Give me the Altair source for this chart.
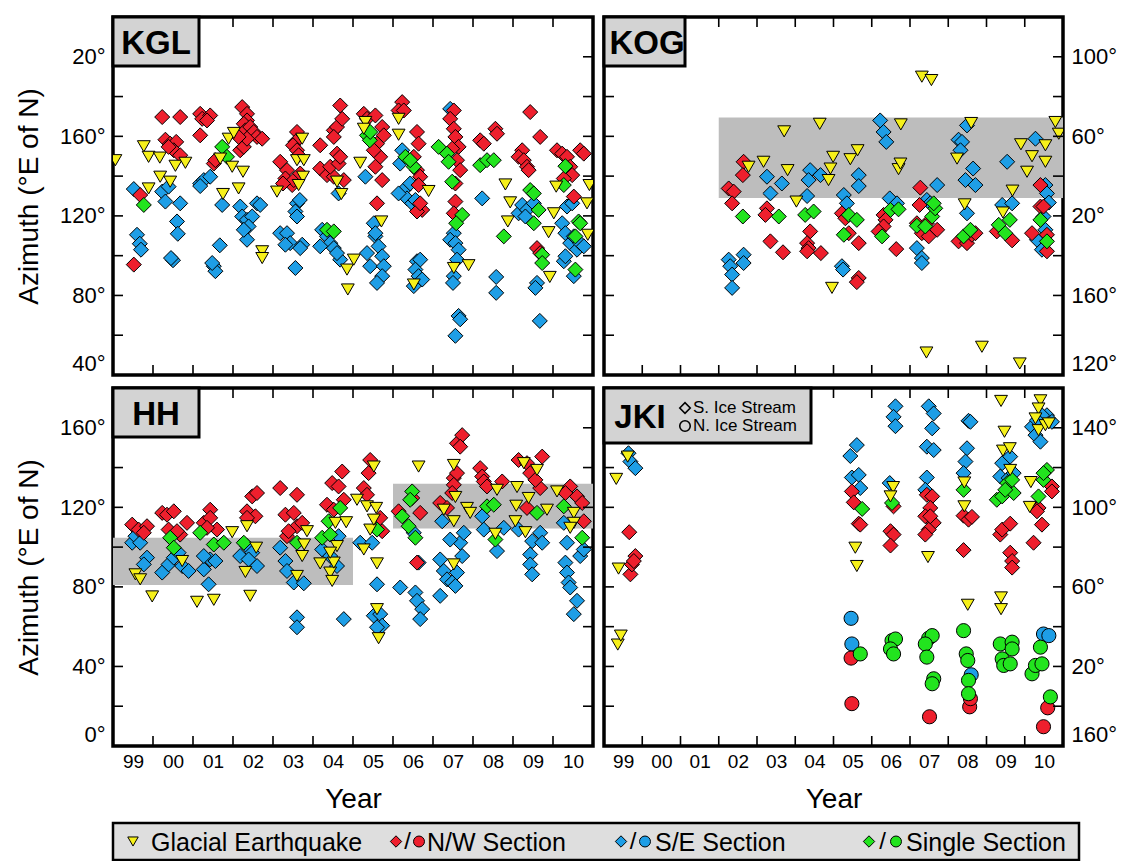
import altair as alt
import pandas as pd

# ---------------- data (year, azimuth) ----------------
YEAR_LABELS = ["99", "00", "01", "02", "03", "04", "05", "06", "07", "08", "09", "10"]
X_DOMAIN = [1999, 2011]
X_TICKS = list(range(2000, 2011))
Y_START = {"KGL": 40, "KOG": 120, "HH": 0, "JKI": 160}

KGL_EQ = [(1999.06,148),(1999.77,155),(1999.89,149.7),(2000.17,149.3),(2000.18,139.7),(1999.89,133.8),
(2000.43,137.2),(2000.56,145.2),(2000.81,146.7),(2001.68,148.8),(2001.89,158.8),(2002.02,161.7),(2001.98,144.7),
(2002.25,142.2),(2002.14,133.8),(2001.75,131),(2002.73,102.2),(2002.73,98.8),(2003.1,132.2),(2003.6,148),
(2003.73,158.8),(2003.77,148),(2003.75,139.7),(2003.64,135.5),(2004.6,137.2),(2004.71,131),(2004.85,93),
(2004.87,83),(2005.02,98),(2005.18,146.7),(2005.31,167.2),(2005.27,163.8),(2005.71,117.2),(2006.14,168.8),
(2006.14,160.8),(2006.89,132.5),(2006.52,85.5),(2007.52,93.8),(2007.89,95.2),(2008.81,135.8),(2008.93,126.8),
(2008.87,117.2),(2009.89,111.8),(2009.92,89.3),(2010.02,121.3),(2010.08,134.7),(2010.85,126.3),(2010.87,110.5),
(2010.91,135.5)]
KGL_NW = [(2000.23,169.7),(2000.68,169.7),(2000.31,158.3),(2000.43,156.3),(2000.58,157.2),(2000.52,153),
(2000.68,150.5),(2000.39,154.7),(1999.52,95.5),(1999.68,130.5),(2001.18,171.3),(2001.23,168.8),(2001.43,170.5),
(2001.35,168),(2001.18,160.5),(2001.52,146.3),(2001.56,148),(2002.23,174.7),(2002.35,171.3),(2002.35,168),
(2002.27,166.3),(2002.31,163),(2002.43,164.7),(2002.18,153),(2002.27,154.7),(2002.52,162.2),(2002.6,159.7),
(2002.73,158.8),(2002.35,158.8),(2002.14,159.7),(2003.6,162.2),(2003.56,157.2),(2003.5,155.5),(2003.6,153),
(2003.64,150.5),(2003.18,147.2),(2003.35,143),(2003.31,138.8),(2003.48,135.5),(2003.52,138),(2003.25,136.3),
(2003.68,141.3),(2004.18,155.5),(2004.18,143.8),(2004.35,140.5),(2004.52,139.7),(2004.43,144.7),(2004.64,146.3),
(2004.6,151.3),(2004.68,149.7),(2004.52,163),(2004.6,164.7),(2004.73,168.8),(2004.68,175.5),(2004.52,159.7),
(2004.77,138),(2005.27,171.3),(2005.35,168.8),(2005.56,170.5),(2005.73,164.7),(2005.77,160.5),(2005.6,156.3),
(2005.68,149.7),(2005.56,144.7),(2005.73,138),(2005.52,153),(2005.6,126.3),(2006.23,177.2),(2006.14,173),
(2006.27,173),(2006.6,162.2),(2006.64,156.3),(2006.52,149.7),(2006.6,143),(2006.68,139.7),(2006.64,135.5),
(2006.73,123),(2006.6,122.2),(2006.68,126.3),(2007.52,173),(2007.43,168.8),(2007.52,163.8),(2007.56,159.7),
(2007.64,154.7),(2007.6,148),(2007.68,143),(2007.48,153.8),(2007.56,136.3),(2007.56,127.2),(2007.52,121.3),
(2008.18,158),(2008.27,156.3),(2008.56,163.8),(2008.6,161.3),(2009.43,172.2),(2009.23,153),(2009.14,149.7),
(2009.27,148),(2009.35,144.7),(2009.39,143),(2009.68,159.7),(2009.6,103.8),(2009.68,101.3),(2010.1,153),
(2010.23,151.3),(2010.35,149.7),(2010.43,144.7),(2010.48,140.5),(2010.27,138.8),(2010.68,153),(2010.77,151.3),
(2010.52,129.7)]
KGL_SE = [(1999.52,133.5),(1999.6,110.5),(1999.67,106),(1999.7,103),(2000.23,132.2),(2000.31,127.2),
(2000.39,134.7),(2000.68,126.3),(2000.6,117.2),(2000.62,111),(2000.5,97.7),(2000.45,98.8),(2001.18,136.3),
(2001.27,138),(2001.43,139.7),(2001.18,135),(2001.73,125.5),(2001.67,105.2),(2001.52,94.7),(2001.56,92.2),
(2001.48,96.3),(2002.18,124.7),(2002.23,119.7),(2002.35,118),(2002.48,119.7),(2002.39,114.7),(2002.35,108),
(2002.6,126.3),(2002.68,125.5),(2002.27,113),(2003.18,111.3),(2003.35,111.3),(2003.43,106.3),(2003.31,105.5),
(2003.56,93.8),(2003.73,105.5),(2003.68,103.8),(2003.6,126.3),(2003.67,128),(2003.56,122.2),(2003.6,119.7),
(2004.23,113),(2004.35,109.7),(2004.43,106.3),(2004.52,103.8),(2004.68,98),(2004.18,104.7),(2004.6,101.3),
(2004.64,131.3),(2005.31,139.7),(2005.35,101.3),(2005.43,94.7),(2005.52,116.3),(2005.56,109.7),(2005.64,104.7),
(2005.73,99.7),(2005.77,94.7),(2005.73,89.7),(2005.6,86.3),(2005.56,111.3),(2006.23,153),(2006.18,146.3),
(2006.27,133),(2006.43,136.3),(2006.35,128.8),(2006.48,126.3),(2006.56,128),(2006.14,131.3),(2006.6,97.2),
(2006.68,98),(2006.56,93),(2006.64,89.7),(2006.73,88),(2006.52,84.7),(2007.43,173.8),(2007.52,111.3),
(2007.43,108),(2007.56,106.3),(2007.64,103),(2007.6,98),(2007.52,89.7),(2007.5,86.3),(2007.64,69.7),
(2007.68,68),(2007.56,59.7),(2008.23,128.8),(2008.58,89.3),(2008.58,81.3),(2009.14,121.3),(2009.23,125.5),
(2009.35,123),(2009.31,119.7),(2009.52,126.3),(2009.6,86.3),(2009.56,83.8),(2009.67,67.2),(2010.23,116.3),
(2010.31,111.3),(2010.35,124.7),(2010.43,106.3),(2010.52,109.7),(2010.6,103),(2010.68,106.3),(2010.77,104.7),
(2010.48,126.3),(2010.27,97.2),(2010.52,89.7),(2010.31,99.7)]
KGL_SS = [(1999.77,125.5),(2001.73,154.7),(2001.85,149.7),(2005.35,160.5),(2005.42,158),(2005.43,162.2),
(2006.31,149.7),(2006.52,144.7),(2006.43,148),(2007.14,154.7),(2007.35,151.3),(2007.39,147.2),(2007.48,137.2),
(2007.73,120.5),(2007.58,116.3),(2008.18,145.5),(2008.35,148),(2008.52,148),(2008.77,109.7),(2009.43,133),
(2009.52,131.3),(2009.64,123),(2009.52,116.3),(2009.73,100.5),(2009.73,96.3),(2010.31,145),(2010.27,135.5),
(2004.35,113),(2004.52,112.2),(2010.64,117.2),(2010.56,109.7),(2010.56,93),(2010.68,116.3)]

KOG_EQ = [(2007.31,270),(2007.56,268.3),(2003.71,242.5),(2004.64,246.3),(2006.76,246),(2008.6,246.7),
(2010.8,247.2),(2010.89,241.3),(2002.78,224.7),(2003.17,227.2),(2003.8,223),(2004.03,207.2),(2004.87,218),
(2004.92,223.8),(2004.99,229.7),(2005.44,228.5),(2005.63,233),(2006.7,223.5),(2006.75,226.3),(2008.23,228.8),
(2008.43,205.8),(2009.43,201.7),(2009.68,212.7),(2009.9,236),(2010.06,222.2),(2010.19,230),(2010.54,235.5),
(2010.54,227.2),(2004.96,163.8),(2007.43,131.3),(2008.88,134.2),(2009.87,125.8)]
KOG_NW = [(2002.26,213.8),(2002.39,212.2),(2002.65,227.2),(2002.63,220.5),(2002.35,206.3),(2003.26,203.8),
(2003.22,200.5),(2003.35,187.2),(2003.68,181.7),(2004.39,192.2),(2004.31,186.3),(2004.35,183.8),(2004.31,182.2),
(2004.67,181.3),(2005.22,201.3),(2005.31,198.8),(2005.4,191.3),(2005.66,186.3),(2005.66,168.8),(2005.61,166.7),
(2006.31,200.5),(2006.36,198),(2006.31,194.7),(2006.18,192.2),(2006.64,183.3),(2007.27,214.2),(2007.25,205.5),
(2007.18,196.3),(2007.31,191.3),(2007.49,189.7),(2007.71,193),(2007.44,196.3),(2008.27,187.2),(2008.49,186.3),
(2008.62,190.5),(2008.71,191.3),(2009.27,192.2),(2009.67,187.7),(2010.41,215.5),(2010.41,204.7),(2010.19,191.3),
(2010.58,190.5),(2010.58,182.2),(2010.49,204.7)]
KOG_SE = [(2002.26,178),(2002.3,174.7),(2002.35,170.5),(2002.35,163.8),(2002.65,180.5),(2002.65,176.3),
(2003.26,219.7),(2003.35,211.3),(2003.65,216.3),(2004.39,223),(2004.35,218),(2004.31,210),(2004.66,220.5),
(2005.27,210.5),(2005.35,206.3),(2005.66,220.5),(2005.66,215),(2005.22,174.7),(2005.25,173),(2006.22,248),
(2006.31,242.2),(2006.38,237.2),(2006.47,208.8),(2006.66,206.3),(2007.71,215.5),(2007.44,208),(2007.53,206.3),
(2007.18,183.8),(2007.31,178.8),(2007.31,176.3),(2008.27,238.3),(2008.36,237.2),(2008.49,245.5),(2008.32,233),
(2008.65,223.8),(2008.45,218),(2008.71,215.5),(2008.49,201.3),(2009.54,227.2),(2009.41,205.5),(2009.67,206.3),
(2010.28,238.8),(2010.54,215.5),(2010.58,211.3),(2010.63,206.7),(2010.49,199.7),(2010.54,193),(2010.32,188),
(2010.45,183)]
KOG_SS = [(2002.63,199.7),(2003.57,199.7),(2004.26,200.5),(2004.48,202.2),(2005.27,190.5),(2005.4,200.5),
(2005.61,198),(2006.27,189.7),(2006.49,203),(2006.7,203.3),(2007.18,195),(2007.4,194.7),(2007.58,199.7),
(2007.66,203.8),(2007.62,206.3),(2008.4,189.7),(2008.58,193),(2009.32,195.5),(2009.49,191.3),(2009.61,198),
(2010.41,198),(2010.58,187.2)]
KOG_BANDS = [(2002, 2011, 209, 249.5)]

HH_EQ = [(1999.56,86.3),(1999.68,83.8),(1999.98,75.2),(2000.73,93),(2001.1,72.5),(2001.52,73.5),(2001.98,107.5),
(2002.31,87.5),(2002.35,110.5),(2002.58,99.7),(2002.43,75.5),(2003.6,85.5),(2003.73,95.5),(2003.78,101.3),
(2003.85,108),(2004.18,91.8),(2004.43,87.2),(2004.48,83),(2004.52,92.2),(2004.6,100.5),(2004.56,112.2),
(2004.83,112.5),(2004.43,97.2),(2005.1,123.8),(2005.27,98.8),(2005.35,120.5),(2005.43,108.8),(2005.52,113.8),
(2005.58,119.7),(2005.6,91.8),(2005.52,140.5),(2005.6,68.8),(2005.64,54.2),(2006.64,140.5),(2007.27,118.8),
(2007.52,141.3),(2007.56,125.2),(2007.52,113),(2007.52,91.3),(2007.85,119.7),(2007.93,117.2),(2008.6,128.8),
(2008.56,106.7),(2009.1,130.2),(2009.08,120.8),(2009.06,113),(2009.31,107.5),(2009.27,142.2),(2009.39,124.7),
(2009.6,138.8),(2009.85,118.8),(2010.1,128),(2010.52,117.2),(2010.52,112.2),(2010.43,109.7)]
HH_NW = [(1999.48,111.3),(1999.64,108.8),(1999.85,110.5),(1999.77,107.2),(2000.23,117.2),(2000.35,116.3),
(2000.52,118),(2000.39,108.8),(2000.68,106.3),(2000.6,108),(2000.85,112.2),(2001.27,112.2),(2001.43,118.8),
(2001.43,114.7),(2001.6,108.8),(2001.35,109.7),(2002.35,118),(2002.48,125.5),(2002.6,127.2),(2002.56,115.5),
(2002.35,114.7),(2003.18,129.7),(2003.6,126.3),(2003.31,116.3),(2003.52,117.2),(2003.6,110.5),(2003.35,105.5),
(2003.39,108),(2003.73,112.2),(2004.35,121.3),(2004.48,132.2),(2004.64,130.5),(2004.73,138),(2004.77,123.8),
(2004.52,118.8),(2005.27,129.7),(2005.43,143.8),(2005.39,137.2),(2005.35,126.3),(2005.68,114.7),(2005.73,108),
(2006.14,118),(2006.48,124.7),(2006.68,117.2),(2006.6,92.2),(2007.18,122.2),(2007.35,119.7),(2007.52,134.7),
(2007.6,137.2),(2007.52,131.3),(2007.6,152.2),(2007.73,156.3),(2007.68,150.5),(2007.48,127.2),(2008.18,139.7),
(2008.23,135.5),(2008.27,133),(2008.35,130.5),(2008.73,133),(2009.14,143.8),(2009.35,142.2),(2009.43,137.2),
(2009.73,145.5),(2009.68,129.7),(2009.56,133.8),(2009.35,119.7),(2010.43,130.5),(2010.31,127.2),(2010.6,125.5),
(2010.73,122.2),(2010.77,113)]
HH_SE = [(1999.48,102.2),(1999.56,105.5),(1999.68,102.2),(1999.85,94.7),(1999.77,91.3),(2000.23,87.2),
(2000.39,91.3),(2000.52,94.7),(2000.73,90.5),(2000.89,88),(2000.64,97.2),(2001.27,88.8),(2001.43,93.8),
(2001.56,93),(2001.39,81.3),(2001.27,95.5),(2002.18,95.5),(2002.35,100.5),(2002.48,97.2),(2002.6,90.5),
(2002.39,93.8),(2003.18,99.7),(2003.31,93),(2003.35,88),(2003.52,82.2),(2003.77,81.8),(2003.6,64.7),
(2003.6,59.7),(2004.23,98.8),(2004.43,95.5),(2004.6,90.5),(2004.77,63.8),(2004.64,105.5),(2005.18,102.2),
(2005.48,102.2),(2005.6,81.3),(2005.52,65.5),(2005.68,66.3),(2005.73,60.5),(2005.6,59.7),(2006.18,79.7),
(2006.56,77.2),(2006.6,73),(2006.73,68.8),(2006.68,63.8),(2006.64,92.2),(2006.52,107.2),(2007.23,113),
(2007.18,93.8),(2007.27,88),(2007.35,83.8),(2007.48,82.2),(2007.56,80.5),(2007.6,87.2),(2007.73,95.5),
(2007.68,102.2),(2007.77,107.2),(2007.18,75.5),(2007.43,103.8),(2008.23,115.5),(2008.27,108.8),(2008.6,98),
(2008.77,109.7),(2009.14,108.8),(2009.48,103),(2009.43,96.3),(2009.43,91.3),(2009.48,86.3),(2009.68,107.2),
(2009.73,102.2),(2010.27,112.2),(2010.35,102.2),(2010.31,92.2),(2010.35,87.2),(2010.39,82.2),(2010.43,79.7),
(2010.6,73),(2010.52,66.3),(2010.68,95.5),(2010.77,98.8)]
HH_SS = [(2000.43,104.7),(2000.52,99.7),(2001.18,107.2),(2001.52,101.3),(2001.77,102.2),(2002.27,102.2),
(2003.6,102.2),(2004.23,104.7),(2004.43,106.3),(2004.39,113),(2004.68,119.7),(2005.6,108.8),(2006.23,115.5),
(2006.39,110.5),(2006.48,128),(2006.56,104.7),(2006.43,123.8),(2008.35,120.5),(2008.52,121.3),(2008.56,103.8),
(2009.6,117.2),(2010.27,120.5),(2010.73,104.7)]
HH_BANDS = [(1999, 2005, 81, 104.7), (2006, 2011, 109.3, 131.8)]

JKI_EQ = [(1999.32,294.3),(1999.38,249.2),(1999.36,211),(1999.44,215.5),(1999.62,305.5),(2005.57,259.7),
(2005.61,250.5),(2006.56,290.2),(2006.49,285.5),(2007.47,255),(2008.42,292.5),(2008.42,280.5),(2008.51,231),
(2009.38,333.5),(2009.47,318),(2009.43,308.5),(2009.61,309.7),(2009.62,298.8),(2009.38,234.7),(2009.38,228.8),
(2010.16,292.7),(2010.13,280.2),(2010.41,333.8),(2010.36,329.7),(2010.28,324.7),(2010.36,318.8),(2010.54,321.3),
(2010.63,322.2)]
JKI_NW_S = [(1999.66,267.5),(1999.69,246.3),(1999.73,251.3),(1999.82,255.5),(1999.78,253),(2005.48,288),
(2005.53,282.5),(2005.66,271.8),(2005.7,271.3),(2006.49,268),(2006.57,266.3),(2006.49,260.8),(2006.57,280.5),
(2007.44,286.3),(2007.58,285.5),(2007.53,279.7),(2007.4,275.5),(2007.62,272.2),(2007.49,268.8),(2007.4,266.3),
(2007.53,275.5),(2008.4,275.8),(2008.53,273.8),(2008.62,275.2),(2008.4,258.5),(2009.36,266.3),(2009.41,268.8),
(2009.62,271.8),(2009.62,257.2),(2009.67,253),(2009.67,249.7),(2010.23,262.2),(2010.36,279.7),(2010.32,278),
(2010.45,271.3),(2010.71,290.5),(2010.71,288)]
JKI_SE_S = [(1999.64,307.2),(1999.69,303),(1999.82,299.7),(2005.44,305.8),(2005.61,311.3),(2005.48,295),
(2005.66,296.3),(2005.7,289.7),(2006.62,330.8),(2006.57,325.5),(2006.62,320.8),(2006.47,292.2),(2007.49,330.8),
(2007.62,327.2),(2007.58,319.7),(2007.44,310.5),(2007.62,308.8),(2007.44,295),(2007.4,288.8),(2008.53,323.5),
(2008.58,323),(2008.49,309.7),(2008.45,303),(2008.4,297.2),(2009.41,302.2),(2009.62,305.5),(2009.36,295.5),
(2009.58,294.7),(2009.71,297.2),(2010.19,320.5),(2010.28,316.3),(2010.41,313),(2010.58,326.3),(2010.71,323),
(2010.45,326.3),(2010.32,323.8)]
JKI_SS_S = [(2005.75,279.2),(2006.53,282.2),(2008.4,288.8),(2009.27,283.8),(2009.41,285.5),(2009.54,292.2),
(2009.71,287.2),(2009.67,293.8),(2009.49,288.8),(2010.36,285.5),(2010.49,293.8),(2010.58,298.8),(2010.49,297.2)]
JKI_NW_N = [(2005.46,204.2),(2005.48,181.3),(2007.51,174.7),(2008.56,179.7),(2008.58,183.8),(2010.49,169.7),
(2010.6,179.2)]
JKI_SE_N = [(2005.46,224.2),(2005.48,211.3),(2008.6,195.8),(2010.49,216.3),(2010.63,215.5)]
JKI_SS_N = [(2005.7,206.3),(2006.53,213),(2006.62,213.8),(2006.49,208.8),(2006.57,206.3),(2007.49,214.2),
(2007.58,215.5),(2007.4,211.3),(2007.44,204.7),(2007.62,193.8),(2007.58,191.3),(2008.4,218),(2008.47,206.3),
(2008.51,203),(2008.53,193),(2008.53,186.3),(2009.36,211.3),(2009.41,203.8),(2009.45,200.5),(2009.67,212.2),
(2009.67,208.8),(2009.62,201.3),(2010.19,196.3),(2010.28,200.5),(2010.41,209.7),(2010.45,201.3),(2010.67,184.7)]

LEGEND_LABELS = ["Glacial Earthquake", "N/W Section", "S/E Section", "Single Section"]
KEY_LABELS = ["S. Ice Stream", "N. Ice Stream"]

# ---------------- styles ----------------
FONT = "Liberation Sans"
RED, BLUE, GREEN, YELLOW = "#ee1f2d", "#1e9ee6", "#22e41e", "#f6f01a"
BAND = "#bdbdbd"
BOX = "#d3d3d3"
H = 358
W_LEFT, W_RIGHT = 480, 459
S_DIA, S_TRI, S_CIR = 225, 165, 200


def pts_layer(pairs, shape, color, size, xs, ys, xaxis, yaxis):
    df = pd.DataFrame(pairs, columns=["year", "az"])
    return alt.Chart(df).mark_point(
        shape=shape, filled=True, fill=color, stroke="black", strokeWidth=1,
        size=size, opacity=1, fillOpacity=1, clip=True,
    ).encode(
        x=alt.X("year:Q", scale=xs, axis=xaxis),
        y=alt.Y("az:Q", scale=ys, axis=yaxis),
    )


def panel(name, width, side, show_x, series, bands=None, box_w=86, box_h=49, key=False):
    d0 = Y_START[name]
    xs = alt.Scale(domain=X_DOMAIN, nice=False, zero=False)
    ys = alt.Scale(domain=[d0, d0 + 180], nice=False, zero=False)
    if show_x:
        lab = "[" + ",".join("'%s'" % s for s in YEAR_LABELS) + "]"
        xaxis = alt.Axis(
            values=[X_DOMAIN[0] + i + 0.5 for i in range(len(YEAR_LABELS))],
            labelExpr=lab + "[floor(datum.value) - %d]" % X_DOMAIN[0],
            ticks=False, domain=False, grid=False, labelFontSize=19, labelPadding=6,
            labelColor="black", title="Year", titleFontSize=28, titleFontWeight="normal",
            titleColor="black", titlePadding=14, labelFont=FONT, titleFont=FONT,
        )
    else:
        xaxis = None
    ykw = dict(
        orient=side, values=[d0 + 40 * i for i in range(5)],
        labelExpr="(datum.value % 180) + '°'", ticks=False, domain=False, grid=False,
        labelFontSize=22, labelPadding=8, labelColor="black", labelFlush=True, labelFont=FONT,
    )
    if side == "left":
        yaxis = alt.Axis(title="Azimuth (°E of N)", titleFontSize=28, titleFontWeight="normal",
                         titleColor="black", titlePadding=16, titleFont=FONT, **ykw)
    else:
        yaxis = alt.Axis(title=None, **ykw)

    layers = []
    if bands:
        bdf = pd.DataFrame(bands, columns=["x1", "x2", "y1", "y2"])
        layers.append(alt.Chart(bdf).mark_rect(color=BAND, opacity=1).encode(
            x=alt.X("x1:Q", scale=xs, axis=xaxis), x2="x2:Q",
            y=alt.Y("y1:Q", scale=ys, axis=yaxis), y2="y2:Q"))
    for pairs, shape, color, size in series:
        layers.append(pts_layer(pairs, shape, color, size, xs, ys, xaxis, yaxis))

    xt = pd.DataFrame({"year": X_TICKS})
    yt = pd.DataFrame({"az": [d0 + 20 * i for i in range(1, 9)]})
    rule = dict(color="black", strokeWidth=1.6)
    layers.append(alt.Chart(xt).mark_rule(**rule).encode(
        x=alt.X("year:Q", scale=xs, axis=xaxis), y=alt.value(0), y2=alt.value(10)))
    layers.append(alt.Chart(xt).mark_rule(**rule).encode(
        x=alt.X("year:Q", scale=xs, axis=xaxis), y=alt.value(H - 10), y2=alt.value(H)))
    layers.append(alt.Chart(yt).mark_rule(**rule).encode(
        y=alt.Y("az:Q", scale=ys, axis=yaxis), x=alt.value(0), x2=alt.value(10)))
    layers.append(alt.Chart(yt).mark_rule(**rule).encode(
        y=alt.Y("az:Q", scale=ys, axis=yaxis), x=alt.value(width - 10), x2=alt.value(width)))

    ldf = pd.DataFrame({"label": [name]})
    layers.append(alt.Chart(ldf).mark_rect(fill=BOX, stroke="black", strokeWidth=3).encode(
        x=alt.value(0), x2=alt.value(box_w), y=alt.value(0), y2=alt.value(box_h)))
    tx = 43 if not key else 36
    layers.append(alt.Chart(ldf).mark_text(
        font=FONT, fontSize=33, fontWeight="bold", align="center", baseline="middle", color="black"
    ).encode(x=alt.value(tx), y=alt.value(box_h / 2 + 2), text="label:N"))
    if key:
        for i, (lbl, shp) in enumerate(zip(KEY_LABELS, ["diamond", "circle"])):
            kdf = pd.DataFrame({"label": [lbl]})
            yy = 20 + 18 * i
            layers.append(alt.Chart(kdf).mark_point(
                shape=shp, filled=False, stroke="black", strokeWidth=1.6, size=110, opacity=1
            ).encode(x=alt.value(81), y=alt.value(yy)))
            layers.append(alt.Chart(kdf).mark_text(
                font=FONT, fontSize=17, align="left", baseline="middle", color="black"
            ).encode(x=alt.value(89), y=alt.value(yy), text="label:N"))
    return alt.layer(*layers).properties(width=width, height=H)


def series4(eq, nw, se, ss, shape="diamond"):
    return [(se, shape, BLUE, S_DIA), (nw, shape, RED, S_DIA), (ss, shape, GREEN, S_DIA),
            (eq, "triangle-down", YELLOW, S_TRI)]


kgl = panel("KGL", W_LEFT, "left", False, series4(KGL_EQ, KGL_NW, KGL_SE, KGL_SS))
kog = panel("KOG", W_RIGHT, "right", False, series4(KOG_EQ, KOG_NW, KOG_SE, KOG_SS),
            bands=KOG_BANDS, box_w=81)
hh = panel("HH", W_LEFT, "left", True, series4(HH_EQ, HH_NW, HH_SE, HH_SS), bands=HH_BANDS)
jki_series = [(JKI_SE_S, "diamond", BLUE, S_DIA), (JKI_NW_S, "diamond", RED, S_DIA),
              (JKI_SS_S, "diamond", GREEN, S_DIA), (JKI_SE_N, "circle", BLUE, S_CIR),
              (JKI_NW_N, "circle", RED, S_CIR), (JKI_SS_N, "circle", GREEN, S_CIR),
              (JKI_EQ, "triangle-down", YELLOW, S_TRI)]
jki = panel("JKI", W_RIGHT, "right", True, jki_series, box_w=207, box_h=55, key=True)

# ---------------- bottom legend ----------------
LW, LH = 966, 37
leg_layers = []
sym_x = [[20], [283, 306], [508, 532], [756, 783]]
text_x = [38, 314, 542, 793]
cols = [YELLOW, RED, BLUE, GREEN]
for i, lbl in enumerate(LEGEND_LABELS):
    d = pd.DataFrame({"label": [lbl]})
    if i == 0:
        leg_layers.append(alt.Chart(d).mark_point(shape="triangle-down", filled=True, fill=YELLOW,
                          stroke="black", strokeWidth=1, size=110, opacity=1).encode(
            x=alt.value(sym_x[0][0]), y=alt.value(LH / 2)))
    else:
        a, b = sym_x[i]
        leg_layers.append(alt.Chart(d).mark_point(shape="diamond", filled=True, fill=cols[i],
                          stroke="black", strokeWidth=1, size=130, opacity=1).encode(
            x=alt.value(a), y=alt.value(LH / 2)))
        leg_layers.append(alt.Chart(d).mark_text(font=FONT, fontSize=24, align="center",
                          baseline="middle", color="black").encode(
            x=alt.value((a + b) / 2), y=alt.value(LH / 2), text=alt.value("/")))
        leg_layers.append(alt.Chart(d).mark_point(shape="circle", filled=True, fill=cols[i],
                          stroke="black", strokeWidth=1, size=120, opacity=1).encode(
            x=alt.value(b), y=alt.value(LH / 2)))
    leg_layers.append(alt.Chart(d).mark_text(font=FONT, fontSize=25, align="left",
                      baseline="middle", color="black").encode(
        x=alt.value(text_x[i]), y=alt.value(LH / 2 + 1), text="label:N"))
legend = alt.layer(*leg_layers).properties(
    width=LW, height=LH,
    view=alt.ViewBackground(fill="#dedede", stroke="black", strokeWidth=2.5),
)

chart = alt.vconcat(
    alt.hconcat(kgl, kog, spacing=4),
    alt.hconcat(hh, jki, spacing=4),
    legend,
    spacing=6,
).configure(font=FONT).configure_view(stroke="black", strokeWidth=3.5)

chart.save("out.html", embed_options={"renderer": "svg", "actions": False})
